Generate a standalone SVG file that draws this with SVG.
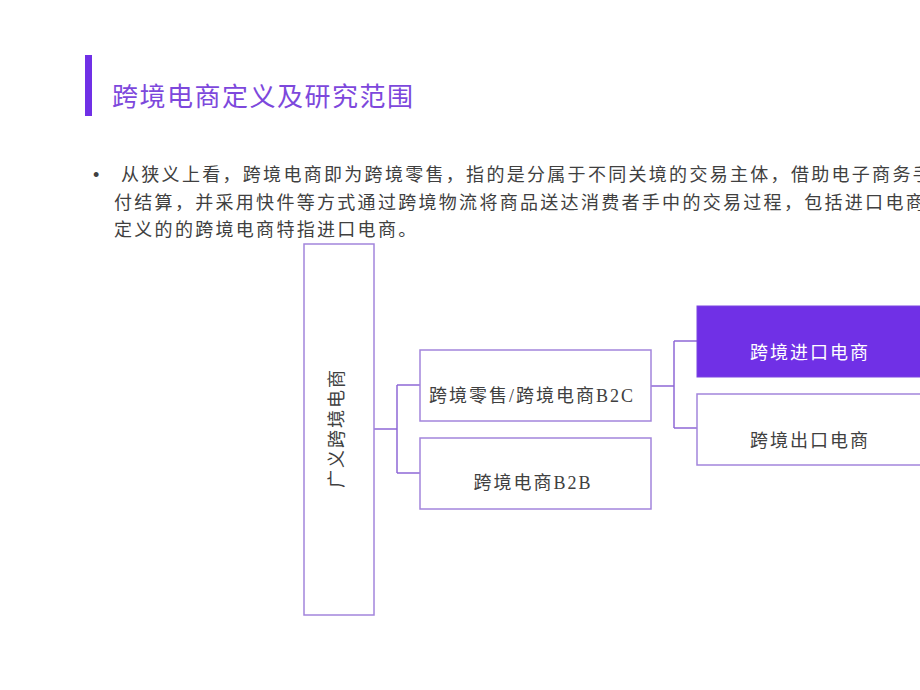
<svg xmlns="http://www.w3.org/2000/svg" width="920" height="690" viewBox="0 0 920 690">
<style>
.body{font-family:"Liberation Sans","Noto Sans CJK SC",sans-serif;font-size:18px;fill:#404040;letter-spacing:2.3px}
.lbl{font-family:"Liberation Serif","Noto Sans CJK SC",serif;font-size:18px;fill:#404040;letter-spacing:2px;text-anchor:middle}
.box{fill:#ffffff;stroke:#a385dc;stroke-width:1.5}
.conn{fill:none;stroke:#8e68d6;stroke-width:1.5}
</style>
<rect width="920" height="690" fill="#ffffff"/>
<g id="title">
<rect x="85" y="55" width="7" height="61" fill="#7030e6"/>
<text x="112" y="106" font-family="Liberation Sans,'Noto Sans CJK SC',sans-serif" font-size="26" letter-spacing="1.5" fill="#7d48dc">跨境电商定义及研究范围</text>
</g>
<g id="paragraph">
<text x="93" y="181" class="body" letter-spacing="0">•</text>
<text x="121" y="181" class="body">从狭义上看，跨境电商即为跨境零售，指的是分属于不同关境的交易主体，借助电子商务手</text>
<text x="114" y="208.5" class="body">付结算，并采用快件等方式通过跨境物流将商品送达消费者手中的交易过程，包括进口电商</text>
<text x="114" y="236" class="body">定义的的跨境电商特指进口电商。</text>
</g>
<g id="connectors">
<path class="conn" d="M374,429 H397 M397,385 V473 M397,385 H420 M397,473 H420"/>
<path class="conn" d="M651,386 H674 M674,341 V428 M674,341 H697 M674,428 H697"/>
</g>
<g id="node-broad">
<rect class="box" x="304" y="244" width="70" height="371"/>
<text class="lbl" transform="translate(343,428) rotate(-90)">广义跨境电商</text>
</g>
<g id="node-b2c">
<rect class="box" x="420" y="350" width="231" height="71"/>
<text class="lbl" x="532" y="402">跨境零售/跨境电商B2C</text>
</g>
<g id="node-b2b">
<rect class="box" x="420" y="438" width="231" height="71"/>
<text class="lbl" x="533" y="489">跨境电商B2B</text>
</g>
<g id="node-import">
<rect x="697" y="306" width="231" height="71" fill="#7030e6" stroke="#7a45e0" stroke-width="1"/>
<text class="lbl" x="810" y="359" style="fill:#ffffff">跨境进口电商</text>
</g>
<g id="node-export">
<rect class="box" x="697" y="394" width="231" height="71"/>
<text class="lbl" x="810" y="447">跨境出口电商</text>
</g>
</svg>
